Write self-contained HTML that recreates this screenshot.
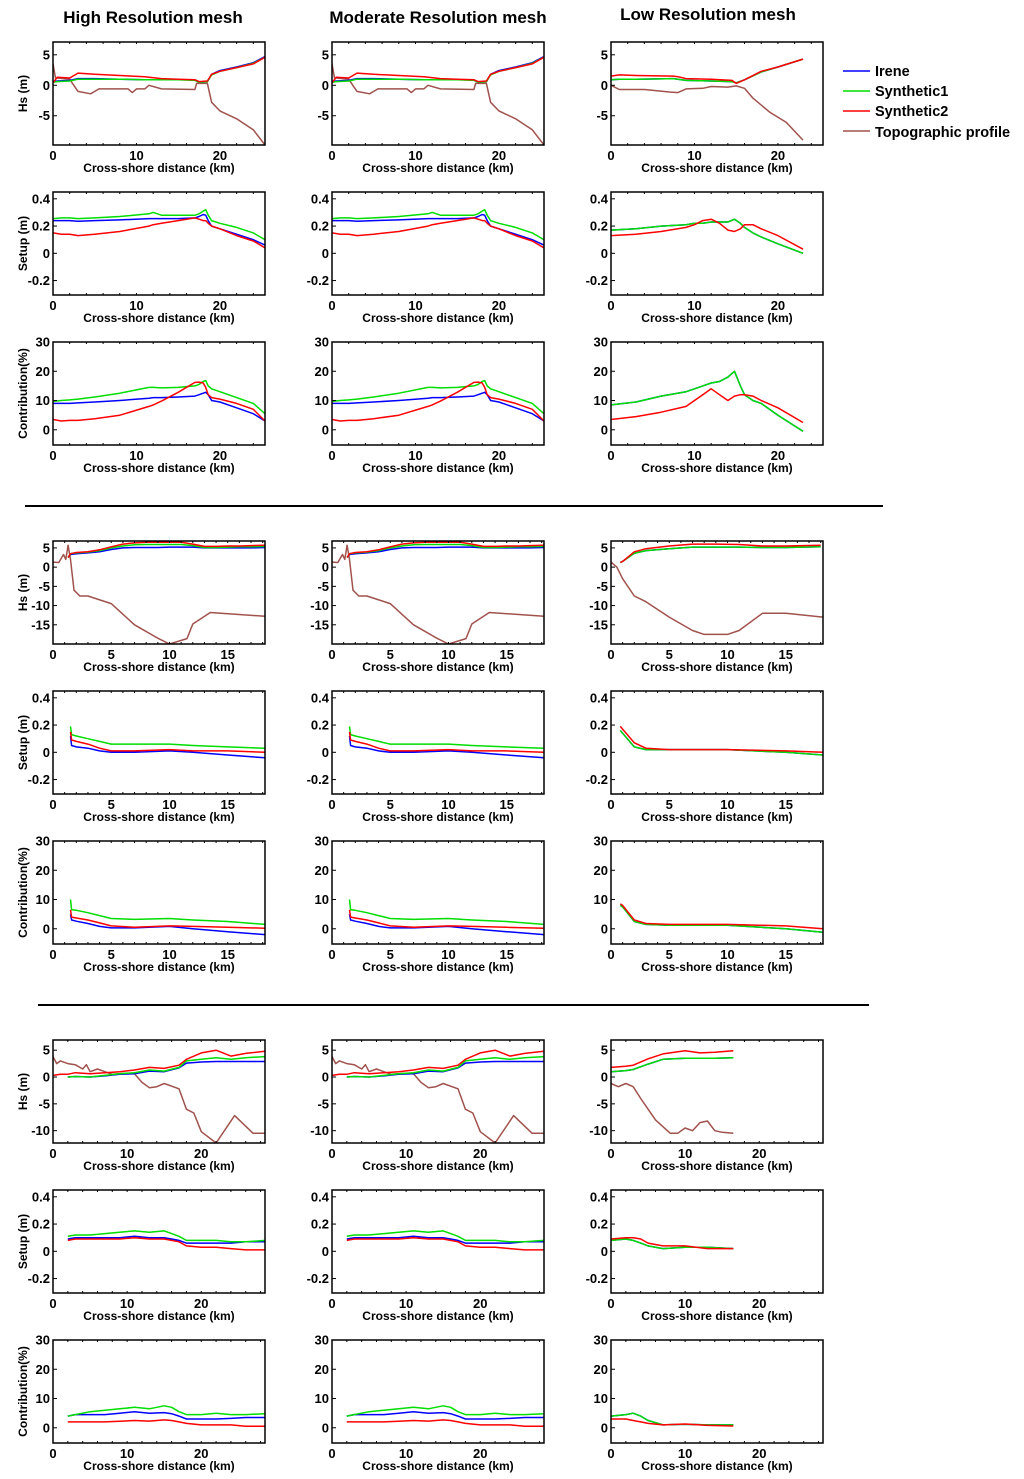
<!DOCTYPE html>
<html><head><meta charset="utf-8"><style>
body{margin:0;background:#fff;}
svg{display:block;font-family:"Liberation Sans",Arial,sans-serif;}
</style></head><body>
<svg id="fig" width="1024" height="1479" viewBox="0 0 1024 1479" xmlns="http://www.w3.org/2000/svg">
<text x="153" y="23" text-anchor="middle" font-size="17" font-weight="bold">High Resolution mesh</text>
<text x="438" y="23" text-anchor="middle" font-size="17" font-weight="bold">Moderate Resolution mesh</text>
<text x="708" y="20" text-anchor="middle" font-size="17" font-weight="bold">Low Resolution mesh</text>
<line x1="25" y1="506" x2="883" y2="506" stroke="#000" stroke-width="2"/>
<line x1="38" y1="1005" x2="869" y2="1005" stroke="#000" stroke-width="2"/>
<g>
<line x1="843" y1="71" x2="870" y2="71" stroke="#0000ff" stroke-width="1.5"/><text x="875" y="76" font-size="14.5" font-weight="bold">Irene</text>
<line x1="843" y1="91" x2="870" y2="91" stroke="#00dd00" stroke-width="1.5"/><text x="875" y="96" font-size="14.5" font-weight="bold">Synthetic1</text>
<line x1="843" y1="111" x2="870" y2="111" stroke="#ff0000" stroke-width="1.5"/><text x="875" y="116" font-size="14.5" font-weight="bold">Synthetic2</text>
<line x1="843" y1="131" x2="870" y2="131" stroke="#a0524d" stroke-width="1.5"/><text x="875" y="137" font-size="14.5" font-weight="bold">Topographic profile</text>
</g>
</svg>
<script>
// ---------- Group 1 data ----------
const g1HsX=[0,0.5,2,3,5,8,11,13,15,17,17.5,18.5,19,20,22,24,25.4];
const g1HsIrene=[0.6,0.7,0.8,1.1,1.1,1.0,0.9,0.9,0.9,0.9,0.5,0.6,1.8,2.4,3.0,3.7,4.7];
const g1HsSyn1=[0.5,0.6,0.7,1.0,1.0,1.0,0.9,0.9,0.9,0.8,0.5,0.6,1.7,2.3,2.9,3.6,4.6];
const g1HsSyn2=[0.4,1.3,1.2,2.0,1.8,1.6,1.4,1.1,1.0,0.9,0.6,0.7,1.8,2.3,2.9,3.5,4.6];
const g1TopoX=[0,0.3,0.5,2,3,4.5,5,5.5,9,9.5,10,11,11.5,13,17,17.2,18.5,19,20,22,24,25.4];
const g1Topo=[3.5,1.2,1.2,1.0,-1.0,-1.4,-1.0,-0.6,-0.6,-1.2,-0.6,-0.6,0,-0.6,-0.7,0.3,0.3,-2.8,-4.2,-5.5,-7.3,-9.8];
const g1LowHsX=[0,1,3,7.5,8,9,12,14.5,15,16,18,20,23];
const g1LowHsSyn1=[0.9,1.0,1.0,1.1,1.0,0.8,0.7,0.6,0.4,0.9,2.2,3.0,4.3];
const g1LowHsSyn2=[1.5,1.7,1.6,1.5,1.4,1.1,1.0,0.8,0.3,0.9,2.3,3.0,4.3];
const g1LowTopoX=[0,1,4,7,8,9,11,12,14,15,16,17,19,21,23];
const g1LowTopo=[0,-0.7,-0.7,-1.1,-1.2,-0.6,-0.5,-0.2,-0.3,-0.1,-0.5,-2.1,-4.4,-6.1,-9.0];
const g1SuX=[0,1,2,3,5,8,11.5,12,13,15,17,17.5,18,18.3,18.6,19,20,22,24,25.4];
const g1SuIrene=[0.24,0.24,0.24,0.235,0.24,0.245,0.255,0.255,0.255,0.255,0.26,0.27,0.285,0.28,0.24,0.2,0.18,0.14,0.1,0.06];
const g1SuSyn1=[0.255,0.26,0.26,0.255,0.26,0.27,0.29,0.3,0.28,0.28,0.28,0.29,0.31,0.32,0.28,0.24,0.22,0.19,0.15,0.1];
const g1SuSyn2=[0.15,0.14,0.14,0.13,0.14,0.16,0.2,0.21,0.22,0.24,0.26,0.25,0.24,0.24,0.22,0.2,0.18,0.13,0.09,0.04];
const g1CoIrene=[9,9,9,9.2,9.5,10,10.8,11,11,11.2,11.5,12,12.5,12.8,12,10,9.5,7.5,5.5,3];
const g1CoSyn1=[9.7,10,10.2,10.5,11.2,12.5,14.5,14.5,14.3,14.5,15,15.5,16.5,16.8,15,14,13,11,9,5.5];
const g1CoSyn2=[3.5,3,3.2,3.2,3.8,5,8,8.5,9.8,12.8,16.2,16.3,16,14.5,12,11,10.5,9,7,3];
const g1LowSuX=[0,3,6,9,10,11,12,13,14,14.8,15.5,16,17,18,20,23];
const g1LowSuSyn1=[0.17,0.18,0.2,0.21,0.22,0.22,0.23,0.23,0.23,0.25,0.22,0.19,0.15,0.12,0.07,0.0];
const g1LowSuSyn2=[0.13,0.14,0.16,0.19,0.21,0.24,0.25,0.22,0.17,0.16,0.18,0.21,0.21,0.18,0.13,0.03];
const g1LowCoSyn1=[8.5,9.5,11.5,13,14,15,16,16.5,18,20,15,12,10,9,5,-0.5];
const g1LowCoSyn2=[3.5,4.5,6,8,10,12,14,12,10,11.5,12,12,11.5,10,7.5,2.5];
// ---------- Group 2 data ----------
const g2HsX=[1.3,1.5,2,3,4,5,6,7,8,9,10,11,12,13,14,15,16,17,18.2];
const g2HsIrene=[2.5,3.3,3.5,3.7,4.0,4.6,5.0,5.1,5.1,5.1,5.2,5.2,5.2,5.0,5.0,5.0,5.0,5.0,5.1];
const g2HsSyn1=[2.5,3.5,3.7,3.9,4.3,5.0,5.5,5.8,5.9,5.9,5.9,5.9,5.6,5.1,5.1,5.2,5.3,5.3,5.4];
const g2HsSyn2=[2.5,3.5,3.8,4.0,4.5,5.3,6.0,6.3,6.5,6.5,6.5,6.5,6.0,5.4,5.4,5.5,5.5,5.6,5.7];
const g2TopoX=[0,0.5,0.9,1.1,1.3,1.5,1.8,2.3,3,5,7,9,10,11.5,12,13.5,18.2];
const g2Topo=[1.3,1.2,3.3,2.0,5.7,2.0,-6,-7.5,-7.5,-9.5,-15,-18.5,-20,-18.6,-14.8,-11.8,-12.8];
const g2LowHsX=[0.8,1,2,3,5,7,9,11,13,15,18];
const g2LowHsSyn1=[1.2,1.5,3.6,4.3,4.8,5.2,5.2,5.2,5.1,5.1,5.3];
const g2LowHsSyn2=[1.2,1.5,4.0,4.8,5.5,6.0,6.0,5.9,5.5,5.5,5.7];
const g2LowTopoX=[0,0.5,1,2,3,5,7,8,10,11,13,15,18.2];
const g2LowTopo=[1.3,0,-3,-7.5,-9,-13,-16.5,-17.5,-17.5,-16.5,-12,-12,-13];
const g2SuX=[1.5,1.6,2,3,4,5,7,10,12,15,18.2];
const g2SuIrene=[0.12,0.05,0.04,0.03,0.01,0.0,0.0,0.01,0.0,-0.02,-0.04];
const g2SuSyn1=[0.19,0.13,0.12,0.1,0.08,0.06,0.06,0.06,0.05,0.04,0.03];
const g2SuSyn2=[0.15,0.09,0.08,0.06,0.03,0.01,0.01,0.02,0.01,0.01,0.0];
const g2CoIrene=[5,3,2.6,1.8,0.8,0.3,0.3,0.8,0,-1,-2];
const g2CoSyn1=[10,6.5,6.3,5.5,4.5,3.5,3.2,3.5,3,2.5,1.5];
const g2CoSyn2=[6.5,4,3.7,3,2,1,0.5,1,0.8,0.5,0.2];
const g2LowSuX=[0.8,1,2,3,5,10,15,18.2];
const g2LowSuSyn1=[0.16,0.14,0.04,0.02,0.02,0.02,0.0,-0.02];
const g2LowSuSyn2=[0.19,0.17,0.07,0.03,0.02,0.02,0.01,0.0];
const g2LowCoSyn1=[8,7.5,2.5,1.5,1.2,1.2,0,-1.2];
const g2LowCoSyn2=[8.5,8,3,1.8,1.5,1.5,1,0];
// ---------- Group 3 data ----------
const g3HsX2=[0,1,2,3,5,7,9,11,13,15,17,18,20,22,24,26,28.6];
const g3HsSyn2=[0.3,0.5,0.5,0.8,0.6,0.8,1.0,1.3,1.8,1.6,2.2,3.3,4.5,5.0,3.9,4.4,4.8];
const g3HsX=[2,3,5,7,9,11,13,15,17,18,20,22,24,26,28.6];
const g3HsSyn1=[0,0.1,0,0.3,0.6,0.8,1.3,1.1,1.8,3.0,3.3,3.6,3.3,3.6,3.8];
const g3HsIrene=[0,0.1,0,0.2,0.5,0.6,1.1,1.0,1.7,2.6,2.8,2.9,2.9,2.9,2.9];
const g3TopoX=[0,0.5,1,2,3,4,4.5,5,6,7,8,10,11,12,13,14,15,17,18,19,20,22,24.5,27,28.6];
const g3Topo=[3.8,2.5,3,2.5,2.3,1.5,2.3,1.0,1.5,1.0,0.5,0.7,0.6,-1,-2.0,-1.8,-1.2,-2.2,-6,-6.7,-10.2,-12.3,-7.2,-10.5,-10.5];
const g3LowHsX=[0,2,3,5,7,10,12,14,16.5];
const g3LowHsSyn1=[1.0,1.2,1.4,2.4,3.3,3.5,3.5,3.5,3.6];
const g3LowHsSyn2=[1.8,2,2.2,3.4,4.3,4.9,4.5,4.6,4.9];
const g3LowTopoX=[0,1,2,3,4,5,6,8,9,10,11,12,13,14,15,16.5];
const g3LowTopo=[-1.2,-1.8,-1.2,-1.8,-4,-6,-8,-10.5,-10.5,-9.5,-10,-8.5,-8.2,-10,-10.3,-10.5];
const g3SuX=[2,3,5,7,9,11,13,15,16,17,18,20,22,24,26,28.6];
const g3SuIrene=[0.09,0.1,0.1,0.1,0.1,0.11,0.1,0.1,0.09,0.08,0.06,0.06,0.06,0.06,0.07,0.07];
const g3SuSyn1=[0.11,0.12,0.12,0.13,0.14,0.15,0.14,0.15,0.13,0.11,0.08,0.08,0.08,0.07,0.07,0.08];
const g3SuSyn2=[0.08,0.09,0.09,0.09,0.09,0.1,0.09,0.09,0.08,0.07,0.04,0.03,0.03,0.02,0.01,0.01];
const g3CoIrene=[4,4.5,4.5,4.5,5,5.5,5,5.2,4.8,4,3,3,3,3.2,3.5,3.5];
const g3CoSyn1=[4,4.5,5.5,6,6.5,7,6.5,7.5,7,5.5,4.5,4.5,5,4.5,4.5,4.8];
const g3CoSyn2=[2,2,2,2,2.2,2.5,2.3,2.7,2.5,2,1.5,1,1,1,0.5,0.5];
const g3LowSuX=[0,2,3,4,5,7,10,13,16.5];
const g3LowSuSyn1=[0.08,0.09,0.08,0.06,0.04,0.02,0.03,0.03,0.02];
const g3LowSuSyn2=[0.09,0.1,0.1,0.09,0.06,0.04,0.04,0.02,0.02];
const g3LowCoSyn1=[4,4.5,5,4,2.5,1,1.2,1,1];
const g3LowCoSyn2=[3,3,2.5,2,1.5,1,1.3,0.8,0.6];
// tick labels
const hs1Ticks=[5,0,-5];
const hs2Ticks=[5,0,-5,-10,-15];
const hs3Ticks=[5,0,-5,-10];
const suTicks=[0.4,0.2,0,-0.2];
const coTicks=[30,20,10,0];
const x1Ticks=[0,10,20];
const x2Ticks=[0,5,10,15];
const x3Ticks=[0,10,20];

const C={irene:'#0000ff',syn1:'#00dd00',syn2:'#ff0000',topo:'#a0524d'};
const svg=document.getElementById('fig');
const NS='http://www.w3.org/2000/svg';
function mk(tag,attrs,parent){const e=document.createElementNS(NS,tag);for(const k in attrs)e.setAttribute(k,attrs[k]);parent.appendChild(e);return e;}

const colX=[53,332,611], W=212, H=103;
const rowY=[42,192,342,541,691,841,1040,1190,1340];
const colNames=['high','moderate','low'];

function panel(row,col,xr,yr,xt,yt,ylabel,series,kind){
  const x0=colX[col], y0=rowY[row];
  const g=mk('g',{},svg);
  
  
  const sx=v=>x0+(v-xr[0])/(xr[1]-xr[0])*W;
  const sy=v=>y0+(yr[1]-v)/(yr[1]-yr[0])*H;
  const clipId='c'+row+'_'+col;
  const cp=mk('clipPath',{id:clipId},g);mk('rect',{x:x0,y:y0,width:W,height:H},cp);
  const sg=mk('g',{'clip-path':'url(#'+clipId+')'},g);
  series.forEach(s=>{
    const pts=s.x.map((xv,i)=>sx(xv).toFixed(1)+','+sy(s.y[i]).toFixed(1)).join(' ');
    const pl=mk('polyline',{points:pts,fill:'none',stroke:C[s.c],'stroke-width':1.5,'stroke-linejoin':'round'},sg);
    
    
  });
  const fr=mk('rect',{x:x0,y:y0,width:W,height:H,fill:'none',stroke:'#000','stroke-width':1.5},g);
  
  
  for(let xv=xr[0];xv<=xr[1];xv+=(xt[1]-xt[0])/5){mk('line',{x1:sx(xv),y1:y0,x2:sx(xv),y2:y0+2,stroke:'#000','stroke-width':1},g);mk('line',{x1:sx(xv),y1:y0+H,x2:sx(xv),y2:y0+H-2,stroke:'#000','stroke-width':1},g);}
  xt.forEach(v=>{
    const t=mk('text',{x:sx(v),y:y0+H+15,'text-anchor':'middle','font-size':13,'font-weight':'bold'},g);t.textContent=v;
    
    
  });
  yt.forEach(v=>{
    const t=mk('text',{x:x0-3,y:sy(v)+4.5,'text-anchor':'end','font-size':13,'font-weight':'bold'},g);t.textContent=v;
    
    
    mk('line',{x1:x0,y1:sy(v),x2:x0+4,y2:sy(v),stroke:'#000','stroke-width':1},g);
  });
  const xl=mk('text',{x:x0+W/2,y:y0+H+27,'text-anchor':'middle','font-size':12,'font-weight':'bold'},g);xl.textContent='Cross-shore distance (km)';
  
  
  if(col===0){
    const yl=mk('text',{x:0,y:0,'text-anchor':'middle','font-size':12,'font-weight':'bold',transform:'translate('+(x0-26)+','+(y0+H/2)+') rotate(-90)'},g);yl.textContent=ylabel;
    
    
  }
}
const S=(x,y,c)=>({x,y,c});
const R1=[0,25.4],R2=[0,18.2],R3=[0,28.6];
const hs1Y=[-9.8,7.1],hs2Y=[-20,6.8],hs3Y=[-12.3,6.9],suY=[-0.306,0.45],coY=[-5.2,30];
for(let c=0;c<2;c++){
  panel(0,c,R1,hs1Y,x1Ticks,hs1Ticks,'Hs (m)',[S(g1TopoX,g1Topo,'topo'),S(g1HsX,g1HsIrene,'irene'),S(g1HsX,g1HsSyn1,'syn1'),S(g1HsX,g1HsSyn2,'syn2')],'hs');
  panel(1,c,R1,suY,x1Ticks,suTicks,'Setup (m)',[S(g1SuX,g1SuIrene,'irene'),S(g1SuX,g1SuSyn1,'syn1'),S(g1SuX,g1SuSyn2,'syn2')],'setup');
  panel(2,c,R1,coY,x1Ticks,coTicks,'Contribution(%)',[S(g1SuX,g1CoIrene,'irene'),S(g1SuX,g1CoSyn1,'syn1'),S(g1SuX,g1CoSyn2,'syn2')],'contribution');
}
panel(0,2,R1,hs1Y,x1Ticks,hs1Ticks,'',[S(g1LowTopoX,g1LowTopo,'topo'),S(g1LowHsX,g1LowHsSyn1,'irene'),S(g1LowHsX,g1LowHsSyn1,'syn1'),S(g1LowHsX,g1LowHsSyn2,'syn2')],'hs');
panel(1,2,R1,suY,x1Ticks,suTicks,'',[S(g1LowSuX,g1LowSuSyn1,'irene'),S(g1LowSuX,g1LowSuSyn1,'syn1'),S(g1LowSuX,g1LowSuSyn2,'syn2')],'setup');
panel(2,2,R1,coY,x1Ticks,coTicks,'',[S(g1LowSuX,g1LowCoSyn1,'irene'),S(g1LowSuX,g1LowCoSyn1,'syn1'),S(g1LowSuX,g1LowCoSyn2,'syn2')],'contribution');
for(let c=0;c<2;c++){
  panel(3,c,R2,hs2Y,x2Ticks,hs2Ticks,'Hs (m)',[S(g2TopoX,g2Topo,'topo'),S(g2HsX,g2HsIrene,'irene'),S(g2HsX,g2HsSyn1,'syn1'),S(g2HsX,g2HsSyn2,'syn2')],'hs');
  panel(4,c,R2,suY,x2Ticks,suTicks,'Setup (m)',[S(g2SuX,g2SuIrene,'irene'),S(g2SuX,g2SuSyn1,'syn1'),S(g2SuX,g2SuSyn2,'syn2')],'setup');
  panel(5,c,R2,coY,x2Ticks,coTicks,'Contribution(%)',[S(g2SuX,g2CoIrene,'irene'),S(g2SuX,g2CoSyn1,'syn1'),S(g2SuX,g2CoSyn2,'syn2')],'contribution');
}
panel(3,2,R2,hs2Y,x2Ticks,hs2Ticks,'',[S(g2LowTopoX,g2LowTopo,'topo'),S(g2LowHsX,g2LowHsSyn1,'irene'),S(g2LowHsX,g2LowHsSyn1,'syn1'),S(g2LowHsX,g2LowHsSyn2,'syn2')],'hs');
panel(4,2,R2,suY,x2Ticks,suTicks,'',[S(g2LowSuX,g2LowSuSyn1,'irene'),S(g2LowSuX,g2LowSuSyn1,'syn1'),S(g2LowSuX,g2LowSuSyn2,'syn2')],'setup');
panel(5,2,R2,coY,x2Ticks,coTicks,'',[S(g2LowSuX,g2LowCoSyn1,'irene'),S(g2LowSuX,g2LowCoSyn1,'syn1'),S(g2LowSuX,g2LowCoSyn2,'syn2')],'contribution');
for(let c=0;c<2;c++){
  panel(6,c,R3,hs3Y,x3Ticks,hs3Ticks,'Hs (m)',[S(g3TopoX,g3Topo,'topo'),S(g3HsX,g3HsIrene,'irene'),S(g3HsX,g3HsSyn1,'syn1'),S(g3HsX2,g3HsSyn2,'syn2')],'hs');
  panel(7,c,R3,suY,x3Ticks,suTicks,'Setup (m)',[S(g3SuX,g3SuIrene,'irene'),S(g3SuX,g3SuSyn1,'syn1'),S(g3SuX,g3SuSyn2,'syn2')],'setup');
  panel(8,c,R3,coY,x3Ticks,coTicks,'Contribution(%)',[S(g3SuX,g3CoIrene,'irene'),S(g3SuX,g3CoSyn1,'syn1'),S(g3SuX,g3CoSyn2,'syn2')],'contribution');
}
panel(6,2,R3,hs3Y,x3Ticks,hs3Ticks,'',[S(g3LowTopoX,g3LowTopo,'topo'),S(g3LowHsX,g3LowHsSyn1,'irene'),S(g3LowHsX,g3LowHsSyn1,'syn1'),S(g3LowHsX,g3LowHsSyn2,'syn2')],'hs');
panel(7,2,R3,suY,x3Ticks,suTicks,'',[S(g3LowSuX,g3LowSuSyn1,'irene'),S(g3LowSuX,g3LowSuSyn1,'syn1'),S(g3LowSuX,g3LowSuSyn2,'syn2')],'setup');
panel(8,2,R3,coY,x3Ticks,coTicks,'',[S(g3LowSuX,g3LowCoSyn1,'irene'),S(g3LowSuX,g3LowCoSyn1,'syn1'),S(g3LowSuX,g3LowCoSyn2,'syn2')],'contribution');
</script>
</body></html>
